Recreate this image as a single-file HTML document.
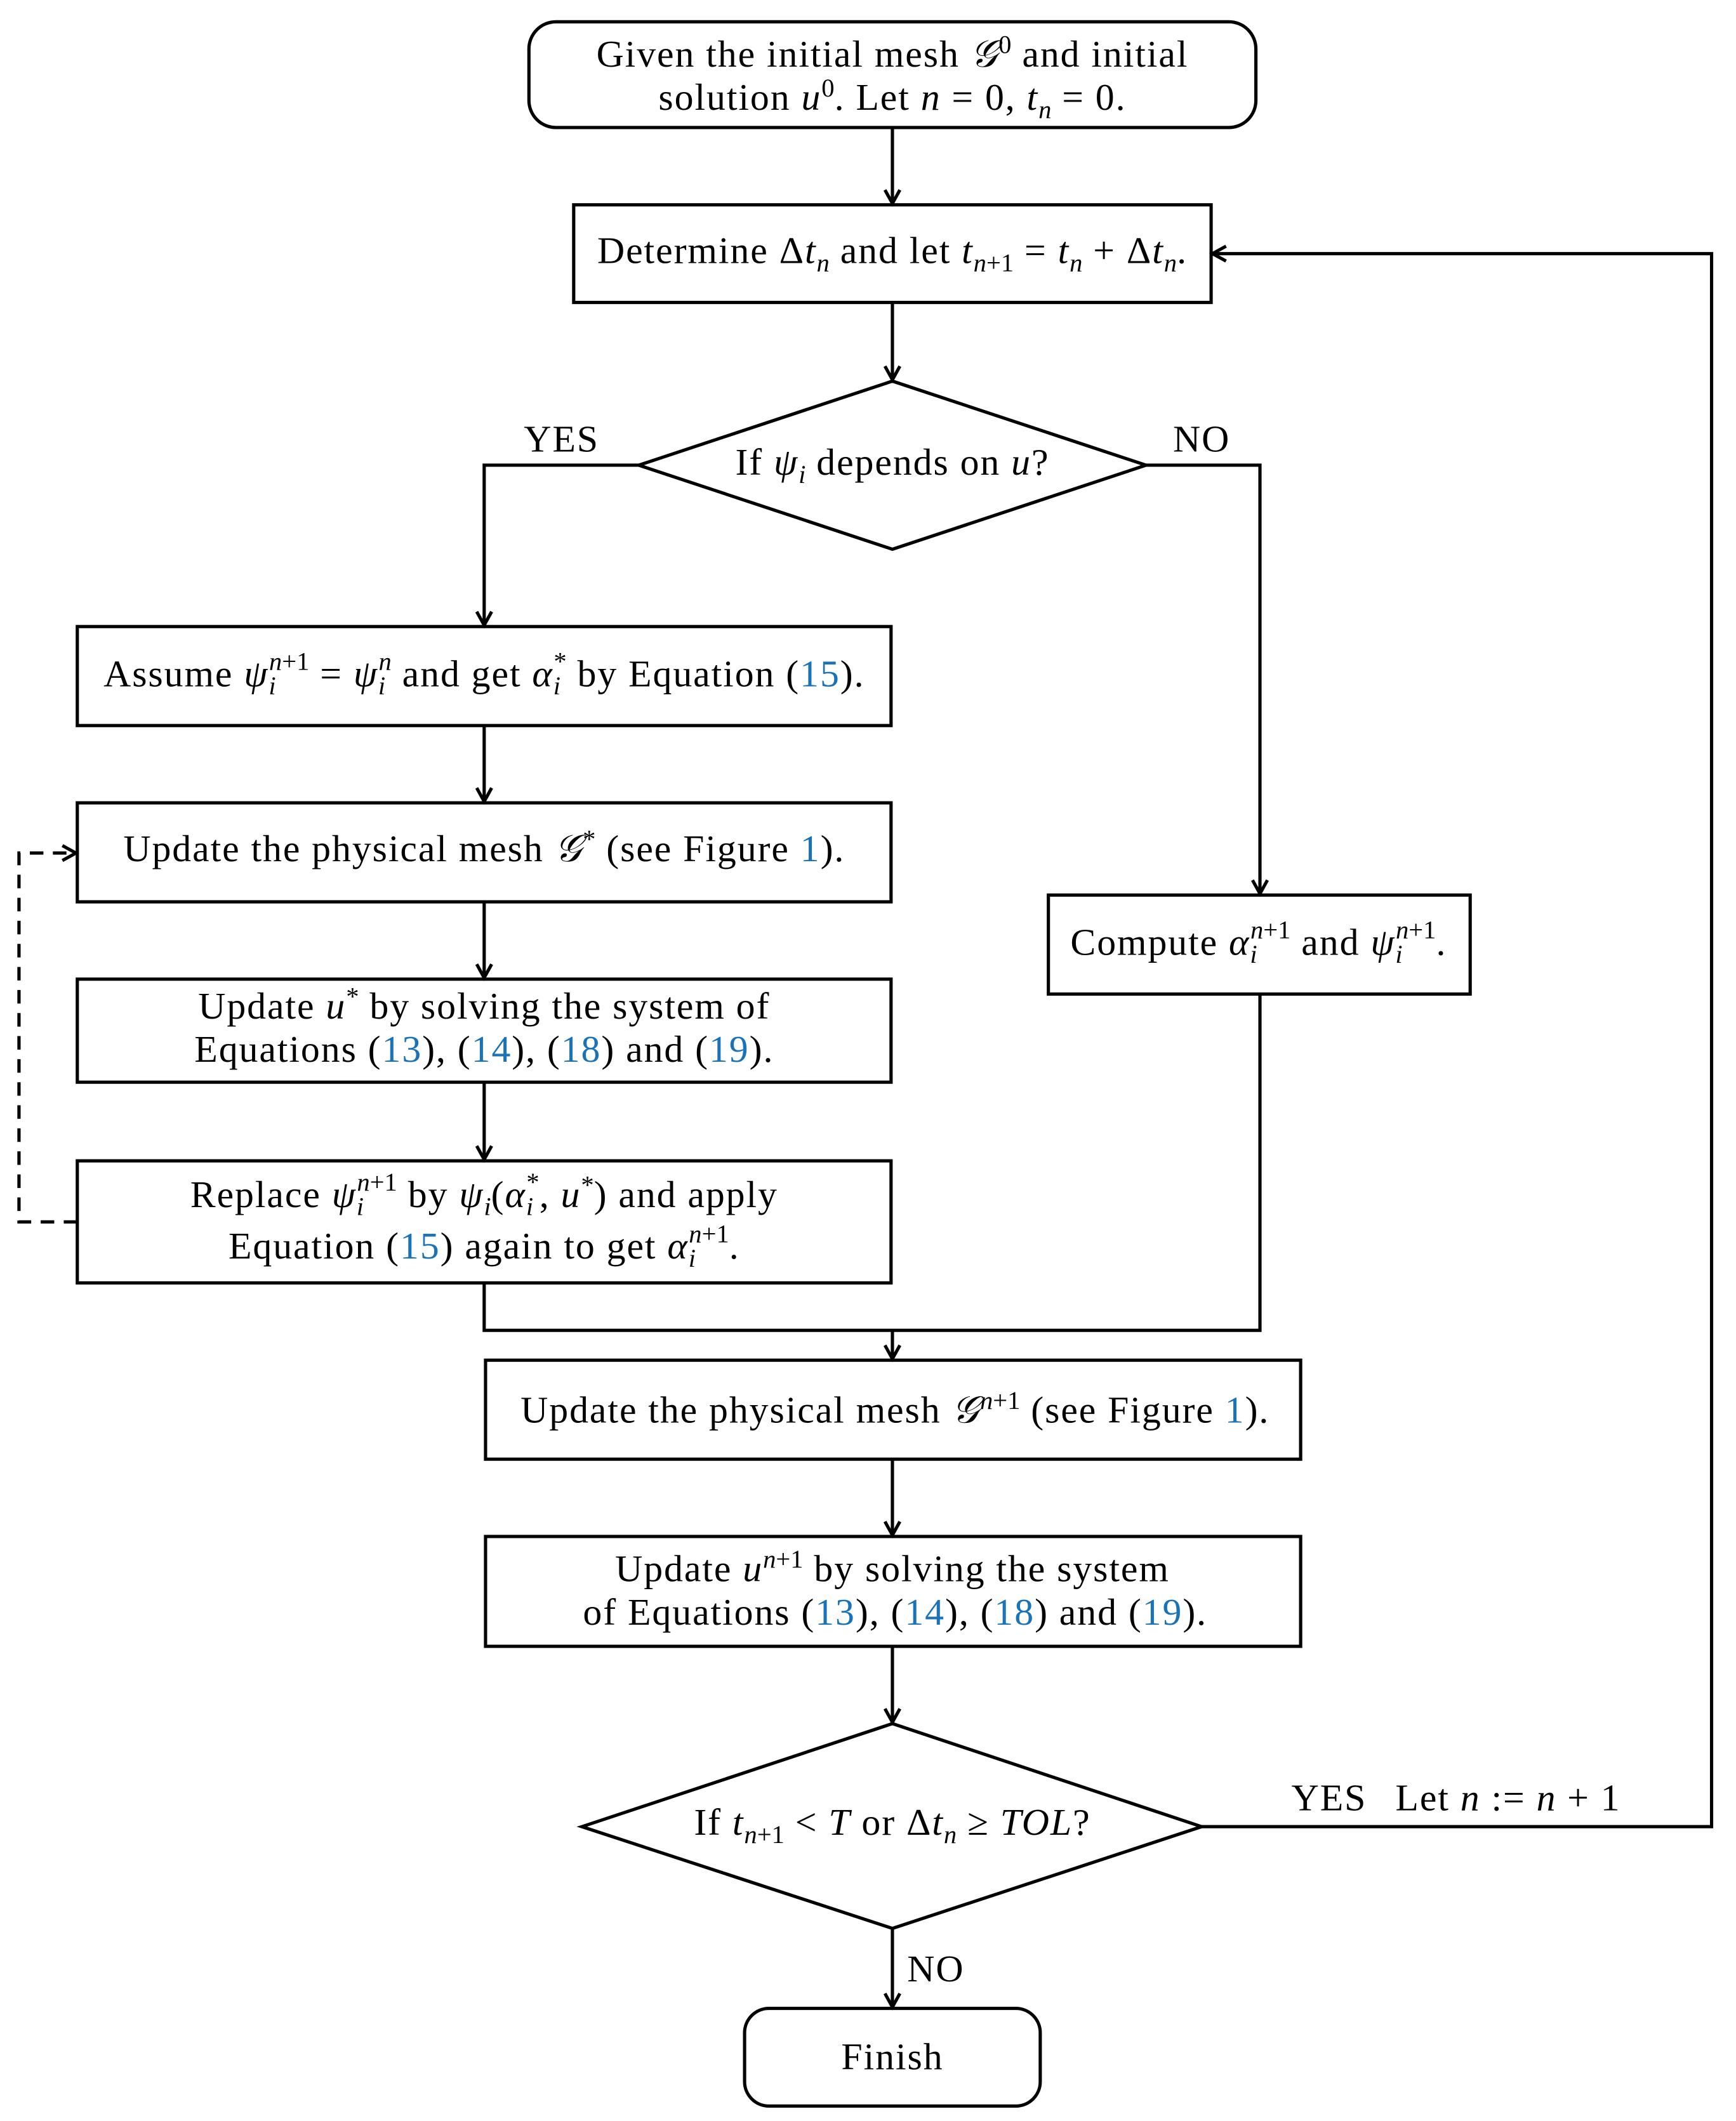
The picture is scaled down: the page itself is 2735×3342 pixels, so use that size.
<!DOCTYPE html>
<html><head><meta charset="utf-8">
<style>
html,body{margin:0;padding:0;background:#fff;}
svg{display:block;}
text{font-family:"Liberation Serif",serif;font-size:28px;letter-spacing:0.9px;fill:#000;}
.i{font-style:italic;}
.b{fill:#1a73b8;}
.s{font-size:19px;letter-spacing:0;}
</style></head>
<body>
<svg width="2735" height="3342" viewBox="0 0 1280 1564" xmlns="http://www.w3.org/2000/svg">
<defs>
<marker id="a" markerWidth="14" markerHeight="14" refX="11" refY="7" orient="auto" markerUnits="userSpaceOnUse">
<path d="M1,1.5 L11,7 L1,12.5" fill="none" stroke="#000" stroke-width="2.4"/>
</marker>
</defs>
<g fill="none" stroke="#000" stroke-width="2.4">
<rect x="390" y="16" width="536" height="78" rx="20"/>
<rect x="423" y="151" width="470" height="72"/>
<polygon points="471,343 658,281 845,343 658,405"/>
<rect x="57" y="462" width="600" height="73"/>
<rect x="57" y="592" width="600" height="73"/>
<rect x="57" y="722" width="600" height="76"/>
<rect x="57" y="856" width="600" height="90"/>
<rect x="773" y="660" width="311" height="73"/>
<rect x="358" y="1003" width="601" height="73"/>
<rect x="358" y="1133" width="601" height="81"/>
<polygon points="429,1347 658,1271 886,1347 658,1422"/>
<rect x="549" y="1481" width="218" height="72" rx="18"/>
<line x1="658" y1="94" x2="658" y2="150" marker-end="url(#a)"/>
<line x1="658" y1="223" x2="658" y2="280" marker-end="url(#a)"/>
<polyline points="471,343 357,343 357,461" marker-end="url(#a)"/>
<polyline points="845,343 929,343 929,659" marker-end="url(#a)"/>
<line x1="357" y1="535" x2="357" y2="591" marker-end="url(#a)"/>
<line x1="357" y1="665" x2="357" y2="721" marker-end="url(#a)"/>
<line x1="357" y1="798" x2="357" y2="855" marker-end="url(#a)"/>
<polyline points="357,946 357,981 929,981 929,733"/>
<line x1="658" y1="981" x2="658" y2="1002" marker-end="url(#a)"/>
<line x1="658" y1="1076" x2="658" y2="1132" marker-end="url(#a)"/>
<line x1="658" y1="1214" x2="658" y2="1270" marker-end="url(#a)"/>
<line x1="658" y1="1422" x2="658" y2="1480" marker-end="url(#a)"/>
<polyline points="886,1347 1262,1347 1262,187 894,187" marker-end="url(#a)"/>
<polyline points="57,901 14,901 14,629 56,629" stroke-dasharray="10,7" marker-end="url(#a)"/>
</g>
<text x="658" y="49" text-anchor="middle">Given the initial mesh <tspan class="i">𝒢</tspan><tspan class="s" dy="-10">0</tspan><tspan dy="10"> and initial</tspan></text>
<text x="658" y="81" text-anchor="middle">solution <tspan class="i">u</tspan><tspan class="s" dy="-10">0</tspan><tspan dy="10">. Let </tspan><tspan class="i">n</tspan> = 0, <tspan class="i">t</tspan><tspan class="s i" dy="6">n</tspan><tspan dy="-6"> = 0.</tspan></text>
<text x="658" y="194" text-anchor="middle">Determine Δ<tspan class="i">t</tspan><tspan class="s i" dy="6">n</tspan><tspan dy="-6"> and let </tspan><tspan class="i">t</tspan><tspan class="s" dy="6"><tspan class="i">n</tspan>+1</tspan><tspan dy="-6"> = </tspan><tspan class="i">t</tspan><tspan class="s i" dy="6">n</tspan><tspan dy="-6"> + Δ</tspan><tspan class="i">t</tspan><tspan class="s i" dy="6">n</tspan><tspan dy="-6">.</tspan></text>
<text x="658" y="350" text-anchor="middle">If <tspan class="i">ψ</tspan><tspan class="s i" dy="6">i</tspan><tspan dy="-6"> depends on </tspan><tspan class="i">u</tspan>?</text>
<text x="414" y="333" text-anchor="middle">YES</text>
<text x="886" y="333" text-anchor="middle">NO</text>
<text x="357" y="506" text-anchor="middle">Assume <tspan class="i">ψ</tspan><tspan class="s i" dy="6">i</tspan><tspan class="s" dx="-5" dy="-18"><tspan class="i">n</tspan>+1</tspan><tspan dy="12"> = </tspan><tspan class="i">ψ</tspan><tspan class="s i" dy="6">i</tspan><tspan class="s i" dx="-5" dy="-18">n</tspan><tspan dy="12"> and get </tspan><tspan class="i">α</tspan><tspan class="s i" dy="6">i</tspan><tspan class="s" dx="-5" dy="-18">*</tspan><tspan dy="12"> by Equation (</tspan><tspan class="b">15</tspan>).</text>
<text x="357" y="635" text-anchor="middle">Update the physical mesh <tspan class="i">𝒢</tspan><tspan class="s" dy="-10">*</tspan><tspan dy="10"> (see Figure </tspan><tspan class="b">1</tspan>).</text>
<text x="357" y="751" text-anchor="middle">Update <tspan class="i">u</tspan><tspan class="s" dy="-10">*</tspan><tspan dy="10"> by solving the system of</tspan></text>
<text x="357" y="783" text-anchor="middle">Equations (<tspan class="b">13</tspan>), (<tspan class="b">14</tspan>), (<tspan class="b">18</tspan>) and (<tspan class="b">19</tspan>).</text>
<text x="357" y="890" text-anchor="middle">Replace <tspan class="i">ψ</tspan><tspan class="s i" dy="6">i</tspan><tspan class="s" dx="-5" dy="-18"><tspan class="i">n</tspan>+1</tspan><tspan dy="12"> by </tspan><tspan class="i">ψ</tspan><tspan class="s i" dy="6">i</tspan><tspan dy="-6">(</tspan><tspan class="i">α</tspan><tspan class="s i" dy="6">i</tspan><tspan class="s" dx="-5" dy="-18">*</tspan><tspan dy="12">, </tspan><tspan class="i">u</tspan><tspan class="s" dy="-10">*</tspan><tspan dy="10">) and apply</tspan></text>
<text x="357" y="928" text-anchor="middle">Equation (<tspan class="b">15</tspan>) again to get <tspan class="i">α</tspan><tspan class="s i" dy="6">i</tspan><tspan class="s" dx="-5" dy="-18"><tspan class="i">n</tspan>+1</tspan><tspan dy="12">.</tspan></text>
<text x="928" y="704" text-anchor="middle">Compute <tspan class="i">α</tspan><tspan class="s i" dy="6">i</tspan><tspan class="s" dx="-5" dy="-18"><tspan class="i">n</tspan>+1</tspan><tspan dy="12"> and </tspan><tspan class="i">ψ</tspan><tspan class="s i" dy="6">i</tspan><tspan class="s" dx="-5" dy="-18"><tspan class="i">n</tspan>+1</tspan><tspan dy="12">.</tspan></text>
<text x="660" y="1049" text-anchor="middle">Update the physical mesh <tspan class="i">𝒢</tspan><tspan class="s" dy="-10"><tspan class="i">n</tspan>+1</tspan><tspan dy="10"> (see Figure </tspan><tspan class="b">1</tspan>).</text>
<text x="658" y="1166" text-anchor="middle">Update <tspan class="i">u</tspan><tspan class="s" dy="-10"><tspan class="i">n</tspan>+1</tspan><tspan dy="10"> by solving the system</tspan></text>
<text x="660" y="1198" text-anchor="middle">of Equations (<tspan class="b">13</tspan>), (<tspan class="b">14</tspan>), (<tspan class="b">18</tspan>) and (<tspan class="b">19</tspan>).</text>
<text x="658" y="1353" text-anchor="middle">If <tspan class="i">t</tspan><tspan class="s" dy="6"><tspan class="i">n</tspan>+1</tspan><tspan dy="-6"> &lt; </tspan><tspan class="i">T</tspan> or Δ<tspan class="i">t</tspan><tspan class="s i" dy="6">n</tspan><tspan dy="-6"> ≥ </tspan><tspan class="i">TOL</tspan>?</text>
<text x="980" y="1335" text-anchor="middle">YES</text>
<text x="1112" y="1335" text-anchor="middle">Let <tspan class="i">n</tspan> := <tspan class="i">n</tspan> + 1</text>
<text x="690" y="1461" text-anchor="middle">NO</text>
<text x="658" y="1526" text-anchor="middle">Finish</text>
</svg>
</body></html>
